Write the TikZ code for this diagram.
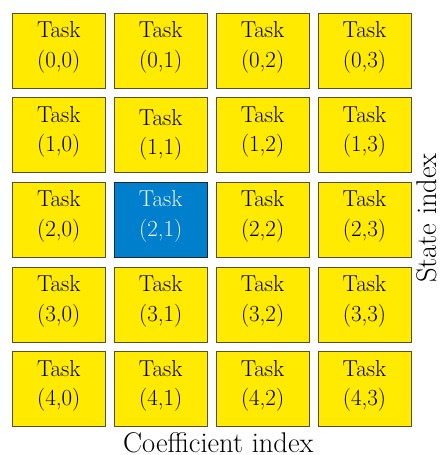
\documentclass[tikz,border=0pt]{standalone}
\usepackage{fontspec}
\definecolor{taskyellow}{RGB}{255,234,0}
\definecolor{taskborder}{RGB}{85,80,50}
\definecolor{taskblue}{RGB}{0,128,204}
\definecolor{blueborder}{RGB}{30,40,50}
\tikzset{
  taskbox/.style={draw=taskborder, line width=1pt, fill=taskyellow,
    minimum width=93pt, minimum height=75pt, inner sep=0pt},
  hot/.style={fill=taskblue, draw=blueborder},
  plain/.style={},
  tasktext/.style={inner sep=0pt, align=center, yshift=3.4pt,
    font=\fontsize{23}{29.6}\selectfont},
  hottext/.style={text=white!94!black},
  lowtext/.style={yshift=-2.8pt},
  axislabel/.style={font=\fontsize{28.5}{33}\selectfont, inner sep=0pt, anchor=base}
}
\begin{document}
\begin{tikzpicture}[x=1pt,y=-1pt]
\useasboundingbox (0,0) rectangle (439,455);
\foreach \r in {0,...,4}{
  \foreach \c in {0,...,3}{
    \def\boxstyle{plain}\def\txtstyle{plain}
    \ifnum\r=2 \ifnum\c=1 \def\boxstyle{hot}\def\txtstyle{hottext}\fi\fi
    \ifnum\r=1 \ifnum\c=1 \def\txtstyle{lowtext}\fi\fi
    \node[taskbox,\boxstyle] (t\r\c) at ({58.8+101.9*\c},{50.8+84.6*\r}) {};
    \node[tasktext,\txtstyle] (l\r\c) at (t\r\c.center) {Task\\(\r,\c)};
  }
}
\node[axislabel] (coef) at (218.3,452) {Coefficient index};
\node[axislabel, rotate=90] (state) at (436.5,218) {State index};
\end{tikzpicture}
\end{document}
